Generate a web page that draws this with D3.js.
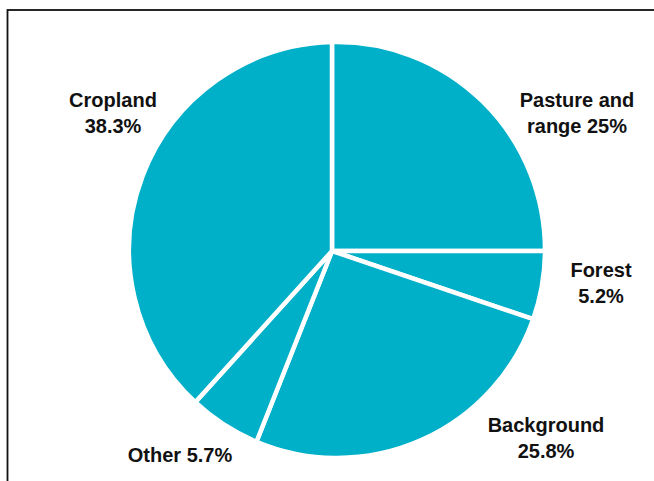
<!DOCTYPE html>
<html>
<head>
<meta charset="utf-8">
<script src="https://cdn.jsdelivr.net/npm/d3@7"></script>
<style>
  html, body { margin: 0; padding: 0; background: #fff; }
  svg { display: block; }
</style>
</head>
<body>
<div id="chart"></div>
<script>
const categories = ['Pasture and range', 'Forest', 'Background', 'Other', 'Cropland'];
const shares = [25, 5.2, 25.8, 5.7, 38.3];
const labelLines = [
  ['Pasture and', 'range 25%'],
  ['Forest', '5.2%'],
  ['Background', '25.8%'],
  ['Other 5.7%'],
  ['Cropland', '38.3%']
];

// Layout: the rim circle sits a few px right of the point where the slices meet
const W = 654, H = 481;
const VX = 332, VY = 251;      // slice vertex
const CX = 337, CY = 250, R = 208;  // rim circle
const FILL = '#00afc8';
const labelAt = {
  'Pasture and range': [577, 107],
  'Forest': [601, 277],
  'Background': [546, 432],
  'Other': [180, 462],
  'Cropland': [113, 107]
};

const svg = d3.select('#chart')
  .append('svg')
  .attr('width', W)
  .attr('height', H);

// frame (only top and left edges fall inside the window)
svg.append('rect')
  .attr('x', 7.5).attr('y', 10)
  .attr('width', W + 20).attr('height', H + 20)
  .attr('fill', 'none')
  .attr('stroke', '#111')
  .attr('stroke-width', 1.8);

const pie = d3.pie().sort(null).value(d => d.value);
const arcs = pie(categories.map((c, i) => ({ name: c, value: shares[i], lines: labelLines[i] })));

// point where a ray from the vertex at angle a (clockwise from 12 o'clock) meets the rim
function rim(a) {
  const ux = Math.sin(a), uy = -Math.cos(a);
  const wx = VX - CX, wy = VY - CY;
  const b = wx * ux + wy * uy;
  const t = -b + Math.sqrt(b * b - (wx * wx + wy * wy) + R * R);
  return [VX + t * ux, VY + t * uy];
}

function slicePath(d) {
  const p0 = rim(d.startAngle), p1 = rim(d.endAngle);
  let sweep = Math.atan2(p1[1] - CY, p1[0] - CX) - Math.atan2(p0[1] - CY, p0[0] - CX);
  if (sweep < 0) sweep += 2 * Math.PI;
  const p = d3.path();
  p.moveTo(VX, VY);
  p.lineTo(p0[0], p0[1]);
  p.arc(CX, CY, R, Math.atan2(p0[1] - CY, p0[0] - CX), Math.atan2(p0[1] - CY, p0[0] - CX) + sweep);
  p.closePath();
  return p.toString();
}

svg.append('g')
  .selectAll('path')
  .data(arcs)
  .join('path')
  .attr('d', slicePath)
  .attr('fill', FILL)
  .attr('stroke', '#fff')
  .attr('stroke-width', 4.5)
  .attr('stroke-linejoin', 'miter');

// labels
const gLab = svg.append('g')
  .attr('font-family', '"Liberation Sans", Arial, sans-serif')
  .attr('font-weight', 'bold')
  .attr('font-size', 20)
  .attr('fill', '#111')
  .attr('text-anchor', 'middle');

arcs.forEach(a => {
  const [x, y] = labelAt[a.data.name];
  const t = gLab.append('text').attr('x', x).attr('y', y);
  a.data.lines.forEach((line, i) => {
    t.append('tspan').attr('x', x).attr('dy', i === 0 ? 0 : 26).text(line);
  });
});
</script>
</body>
</html>
